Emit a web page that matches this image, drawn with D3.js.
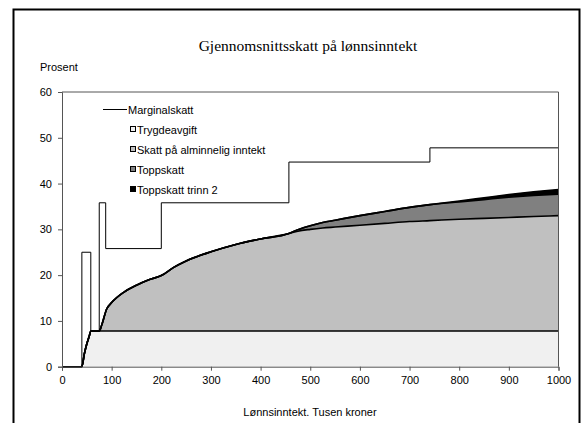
<!DOCTYPE html>
<html>
<head>
<meta charset="utf-8">
<script src="https://cdn.jsdelivr.net/npm/d3@7"></script>
<style>
  body { margin: 0; background: #fff; }
  text { font-family: "Liberation Sans", Arial, sans-serif; font-size: 11px; fill: #000; }
</style>
</head>
<body>
<script>
// income, thousand NOK
var income = [0, 40, 45, 50, 55, 58, 75, 80, 90, 100, 125, 150, 175, 200, 225, 250, 300, 350, 400, 457, 475, 500, 525, 550, 600, 650, 700, 741, 800, 850, 900, 950, 1000];
var trygdeavgift = [0, 0, 2.8, 5.0, 6.7, 7.8, 7.8, 7.8, 7.8, 7.8, 7.8, 7.8, 7.8, 7.8, 7.8, 7.8, 7.8, 7.8, 7.8, 7.8, 7.8, 7.8, 7.8, 7.8, 7.8, 7.8, 7.8, 7.8, 7.8, 7.8, 7.8, 7.8, 7.8];
var alminnelig = [0, 0, 0, 0, 0, 0, 0, 1.3, 4.8, 6.2, 8.5, 10.0, 11.2, 12.1, 13.9, 15.3, 17.3, 18.9, 20.1, 21.3, 21.8, 22.2, 22.5, 22.7, 23.1, 23.5, 23.9, 24.1, 24.4, 24.6, 24.8, 25.0, 25.2];
var toppskatt = [0, 0, 0, 0, 0, 0, 0, 0, 0, 0, 0, 0, 0, 0, 0, 0, 0, 0, 0, 0, 0.34, 0.8, 1.2, 1.5, 2.1, 2.6, 3.1, 3.5, 3.8, 4.1, 4.4, 4.6, 4.7];
var toppskatt2 = [0, 0, 0, 0, 0, 0, 0, 0, 0, 0, 0, 0, 0, 0, 0, 0, 0, 0, 0, 0, 0, 0, 0, 0, 0, 0, 0, 0, 0.2, 0.4, 0.6, 0.8, 1.0];

// marginal tax, step function
var margX = [0, 40, 58, 75, 88, 200, 457, 741, 1000];
var margY = [0, 25, 7.8, 35.8, 25.8, 35.8, 44.7, 47.8, 47.8];

var seriesNames = ["Trygdeavgift", "Skatt på alminnelig inntekt", "Toppskatt", "Toppskatt trinn 2"];
var colors = ["#f0f0f0", "#c0c0c0", "#808080", "#000000"];
var xTicks = [0, 100, 200, 300, 400, 500, 600, 700, 800, 900, 1000];
var yTicks = [0, 10, 20, 30, 40, 50, 60];

var W = 583, H = 423;
var svg = d3.select("body").append("svg").attr("width", W).attr("height", H);

// outer frame
svg.append("rect").attr("x", 13.5).attr("y", 9.5).attr("width", 566).attr("height", 430)
  .attr("fill", "none").attr("stroke", "#000").attr("stroke-width", 2);

var x = d3.scaleLinear().domain([0, 1000]).range([62, 558.5]);
var y = d3.scaleLinear().domain([0, 60]).range([366.7, 92]);

var rows = income.map(function(v, i) {
  return { inc: v, "Trygdeavgift": trygdeavgift[i], "Skatt på alminnelig inntekt": alminnelig[i],
           "Toppskatt": toppskatt[i], "Toppskatt trinn 2": toppskatt2[i] };
});
var stacked = d3.stack().keys(seriesNames)(rows);

var area = d3.area().curve(d3.curveMonotoneX)
  .x(function(d) { return x(d.data.inc); })
  .y0(function(d) { return y(d[0]); })
  .y1(function(d) { return y(d[1]); });
var topLine = d3.line().curve(d3.curveMonotoneX)
  .x(function(d) { return x(d.data.inc); })
  .y(function(d) { return y(d[1]); });

svg.selectAll(".area").data(stacked).enter().append("path")
  .attr("d", area)
  .attr("fill", function(d, i) { return colors[i]; });
svg.selectAll(".top").data(stacked).enter().append("path")
  .attr("d", topLine)
  .attr("fill", "none").attr("stroke", "#000").attr("stroke-width", 1.6);

// marginal tax line
var marg = margX.map(function(v, i) { return [v, margY[i]]; });
svg.append("path")
  .attr("d", d3.line().curve(d3.curveStepAfter)
    .x(function(d) { return x(d[0]); }).y(function(d) { return y(d[1]); })(marg))
  .attr("fill", "none").attr("stroke", "#000").attr("stroke-width", 1);

// plot frame (top and right)
svg.append("path")
  .attr("d", "M" + x(0) + "," + y(60) + "H" + x(1000) + "V" + y(0))
  .attr("fill", "none").attr("stroke", "#555").attr("stroke-width", 1);

// axes
var xAxis = svg.append("g").attr("transform", "translate(0," + y(0) + ")")
  .call(d3.axisBottom(x).tickValues(xTicks).tickSize(4).tickPadding(6).tickFormat(d3.format("d")));
var yAxis = svg.append("g").attr("transform", "translate(" + x(0) + ",0)")
  .call(d3.axisLeft(y).tickValues(yTicks).tickSize(4).tickPadding(6));
[xAxis, yAxis].forEach(function(a) {
  a.select(".domain").attr("stroke", "#555");
  a.selectAll(".tick line").attr("stroke", "#555");
  a.selectAll("text").style("font-family", "'Liberation Sans', Arial, sans-serif").style("font-size", "11px");
});

// titles
svg.append("text").attr("x", 308).attr("y", 51).attr("text-anchor", "middle")
  .style("font-family", "'Liberation Serif', 'Times New Roman', serif").style("font-size", "15.5px")
  .text("Gjennomsnittsskatt på lønnsinntekt");
svg.append("text").attr("x", 40).attr("y", 71).text("Prosent");
svg.append("text").attr("x", 310).attr("y", 416).attr("text-anchor", "middle").text("Lønnsinntekt. Tusen kroner");

// legend
var lg = svg.append("g");
lg.append("line").attr("x1", 103).attr("x2", 127).attr("y1", 109.5).attr("y2", 109.5)
  .attr("stroke", "#000").attr("stroke-width", 1);
lg.append("text").attr("x", 128).attr("y", 113.5).text("Marginalskatt");
seriesNames.forEach(function(n, i) {
  var yy = 129.5 + i * 20;
  lg.append("rect").attr("x", 130.5).attr("y", yy - 3).attr("width", 5).attr("height", 5)
    .attr("fill", colors[i]).attr("stroke", "#000").attr("stroke-width", 1);
  lg.append("text").attr("x", 137).attr("y", yy + 4).text(n);
});
</script>
</body>
</html>
